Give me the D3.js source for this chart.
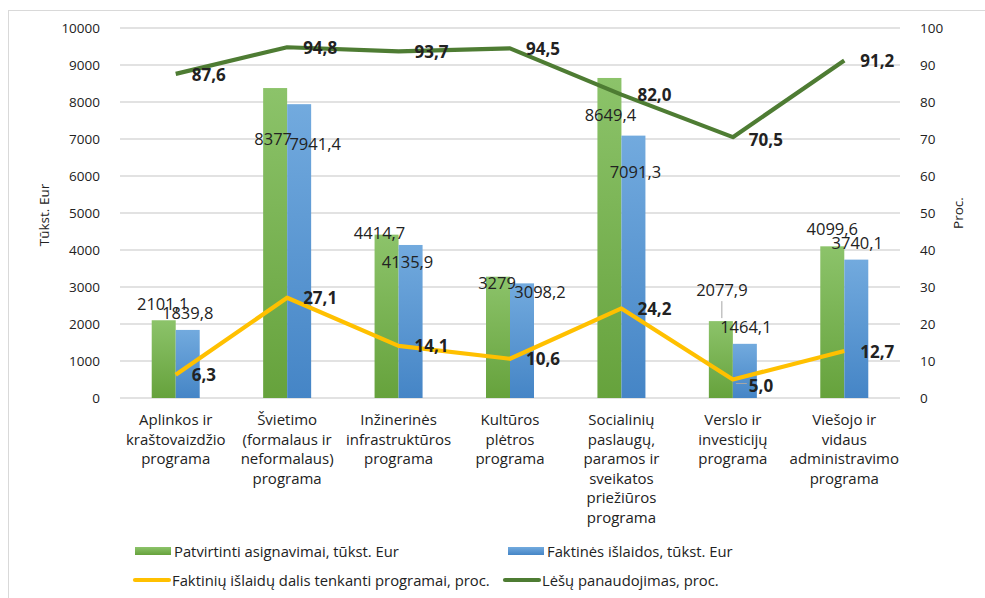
<!DOCTYPE html>
<html>
<head>
<meta charset="utf-8">
<script src="https://cdn.jsdelivr.net/npm/d3@7"></script>
<style>
  body { margin: 0; background: #fff; }
  svg text { font-family: "Open Sans", Lato, sans-serif; fill: #222; }
</style>
</head>
<body>
<div id="chart"></div>
<script>
// programs (line breaks as in the original axis)
var categories = [
  ["Aplinkos ir", "kraštovaizdžio", "programa"],
  ["Švietimo", "(formalaus ir", "neformalaus)", "programa"],
  ["Inžinerinės", "infrastruktūros", "programa"],
  ["Kultūros", "plėtros", "programa"],
  ["Socialinių", "paslaugų,", "paramos ir", "sveikatos", "priežiūros", "programa"],
  ["Verslo ir", "investicijų", "programa"],
  ["Viešojo ir", "vidaus", "administravimo", "programa"]
];
var approved = [2101.1, 8377, 4414.7, 3279, 8649.4, 2077.9, 4099.6];
var actual   = [1839.8, 7941.4, 4135.9, 3098.2, 7091.3, 1464.1, 3740.1];
var share    = [6.3, 27.1, 14.1, 10.6, 24.2, 5.0, 12.7];
var usage    = [87.6, 94.8, 93.7, 94.5, 82.0, 70.5, 91.2];

var leftTicks  = [0, 1000, 2000, 3000, 4000, 5000, 6000, 7000, 8000, 9000, 10000];
var rightTicks = [0, 10, 20, 30, 40, 50, 60, 70, 80, 90, 100];

var seriesNames = [
  "Patvirtinti asignavimai, tūkst. Eur",
  "Faktinės išlaidos, tūkst. Eur",
  "Faktinių išlaidų dalis tenkanti programai, proc.",
  "Lėšų panaudojimas, proc."
];

// hand-moved data labels (Excel style), offsets from the bar top
var approvedNudge = [[-1, -17], [-2, 50], [-7, -2], [-1, 6], [1, 37], [1, -32], [0, -18]];
var actualNudge   = [[0, -17], [16, 39], [-3, 17], [18, 8], [2, 36], [1, -17], [1, -17]];

var width = 985, height = 598;
var margin = {left: 120, right: 85, top: 28, bottom: 200};

var svg = d3.select("#chart").append("svg")
    .attr("width", width)
    .attr("height", height);

var defs = svg.append("defs");
function grad(id, c1, c2) {
  var g = defs.append("linearGradient").attr("id", id)
      .attr("x1", 0).attr("y1", 0).attr("x2", 0).attr("y2", 1);
  g.append("stop").attr("offset", "0%").attr("stop-color", c1);
  g.append("stop").attr("offset", "100%").attr("stop-color", c2);
}
grad("gGreen", "#8cc36a", "#66a23c");
grad("gBlue", "#72aade", "#4585c6");

// outer chart border
svg.append("rect")
    .attr("x", 8.5).attr("y", 10.5)
    .attr("width", width).attr("height", height)
    .attr("fill", "none").attr("stroke", "#d9d9d9");

var x = d3.scaleBand()
    .domain(d3.range(categories.length))
    .range([margin.left, width - margin.right]);

var x1 = d3.scaleBand().domain([0, 1]).range([x.bandwidth() / 2 - 24, x.bandwidth() / 2 + 24]);

var y = d3.scaleLinear().domain([0, 10000]).range([398, margin.top]);
var y2 = d3.scaleLinear().domain([0, 100]).range([398, margin.top]);

// gridlines
svg.append("g").selectAll("line")
  .data(leftTicks)
  .enter().append("line")
    .attr("x1", margin.left).attr("x2", width - margin.right)
    .attr("y1", d => y(d)).attr("y2", d => y(d))
    .attr("stroke", "#d9d9d9").attr("stroke-width", 1.3);

// left axis
var yAxis = svg.append("g")
    .attr("transform", "translate(" + (margin.left - 17) + ",0)")
    .call(d3.axisLeft(y).tickValues(leftTicks).tickSize(0).tickFormat(d3.format("d")));
yAxis.select(".domain").remove();
yAxis.selectAll("text").style("font-size", "13.5px").attr("fill", "#404040");

// right axis
var y2Axis = svg.append("g")
    .attr("transform", "translate(" + (width - margin.right + 17) + ",0)")
    .call(d3.axisRight(y2).tickValues(rightTicks).tickSize(0));
y2Axis.select(".domain").remove();
y2Axis.selectAll("text").style("font-size", "13.5px").attr("fill", "#404040");

svg.append("text")
    .attr("transform", "translate(49,215) rotate(-90)")
    .attr("text-anchor", "middle")
    .style("font-size", "13.5px")
    .text("Tūkst. Eur");

svg.append("text")
    .attr("transform", "translate(963,213) rotate(-90)")
    .attr("text-anchor", "middle")
    .style("font-size", "13.5px")
    .text("Proc.");

// category labels
var cat = svg.append("g").selectAll("text")
  .data(categories)
  .enter().append("text")
    .attr("text-anchor", "middle")
    .attr("x", (d, i) => x(i) + x.bandwidth() / 2)
    .attr("y", 425)
    .style("font-size", "15px")
    .attr("fill", "#404040");
cat.selectAll("tspan")
  .data(d => d)
  .enter().append("tspan")
    .attr("x", function() { return this.parentNode.getAttribute("x"); })
    .attr("dy", (d, i) => i ? 19.6 : 0)
    .text(d => d);

// bars
var bars = svg.append("g");
[approved, actual].forEach(function(values, s) {
  bars.selectAll(".bar" + s)
    .data(values)
    .enter().append("rect")
      .attr("class", "bar" + s)
      .attr("x", (d, i) => x(i) + x1(s))
      .attr("width", x1.bandwidth())
      .attr("y", d => y(d))
      .attr("height", d => y(0) - y(d))
      .attr("fill", s ? "url(#gBlue)" : "url(#gGreen)");
});

var fmt = function(v) { return String(v).replace(".", ","); };
var fmt1 = function(v) { return v.toFixed(1).replace(".", ","); };

// bar labels
[[approved, approvedNudge], [actual, actualNudge]].forEach(function(p, s) {
  svg.append("g").selectAll("text")
    .data(p[0])
    .enter().append("text")
      .attr("text-anchor", "middle")
      .attr("dominant-baseline", "central")
      .attr("x", (d, i) => x(i) + x1(s) + x1.bandwidth() / 2 + p[1][i][0])
      .attr("y", (d, i) => y(d) + p[1][i][1])
      .style("font-size", "16.5px")
      .attr("fill", "#222")
      .text(fmt);
});

// leader line for the moved Verslo label
svg.append("line")
    .attr("x1", x(5) + x1(0) + x1.bandwidth() / 2 + 1).attr("x2", x(5) + x1(0) + x1.bandwidth() / 2 + 1)
    .attr("y1", y(approved[5]) - 20).attr("y2", y(approved[5]) - 3)
    .attr("stroke", "#a6a6a6");

// lines
var cx = i => x(i) + x.bandwidth() / 2;
var line = d3.line().x((d, i) => cx(i)).y(d => y2(d));

svg.append("path").datum(share)
    .attr("d", line).attr("fill", "none")
    .attr("stroke", "#ffc000").attr("stroke-width", 4.2)
    .attr("stroke-linejoin", "round");

svg.append("path").datum(usage)
    .attr("d", line).attr("fill", "none")
    .attr("stroke", "#4e7c33").attr("stroke-width", 4.2)
    .attr("stroke-linejoin", "round");

// leader for 5,0
svg.append("line")
    .attr("x1", cx(5) + 3).attr("x2", cx(5) + 14)
    .attr("y1", y2(share[5]) + 4).attr("y2", y2(share[5]) + 4)
    .attr("stroke", "#a6a6a6");

var shareDy = [0, 0, 0, 0, 0, 6, 0];
var usageDy = [1, 0, 0, 0, 0, 2, 0];
[[share, shareDy], [usage, usageDy]].forEach(function(p) {
  svg.append("g").selectAll("text")
    .data(p[0])
    .enter().append("text")
      .attr("x", (d, i) => cx(i) + 16)
      .attr("y", (d, i) => y2(d) + p[1][i])
      .attr("dominant-baseline", "central")
      .style("font-size", "17px")
      .style("font-weight", "bold")
      .text(fmt1);
});

// legend
var legend = svg.append("g").style("font-size", "14.8px");
var legendItems = [
  {x: 135, y: 551, type: "rect", color: "url(#gGreen)"},
  {x: 508, y: 551, type: "rect", color: "url(#gBlue)"},
  {x: 133, y: 580, type: "line", color: "#ffc000"},
  {x: 503, y: 580, type: "line", color: "#4e7c33"}
];
legendItems.forEach(function(it, i) {
  if (it.type === "rect") {
    legend.append("rect").attr("x", it.x).attr("y", it.y - 4)
        .attr("width", 36).attr("height", 8).attr("fill", it.color);
  } else {
    legend.append("line").attr("x1", it.x + 2).attr("x2", it.x + 36)
        .attr("y1", it.y).attr("y2", it.y)
        .attr("stroke", it.color).attr("stroke-width", 4.2).attr("stroke-linecap", "round");
  }
  legend.append("text").attr("x", it.x + 39).attr("y", it.y)
      .attr("dominant-baseline", "central")
      .attr("fill", "#404040")
      .text(seriesNames[i]);
});
</script>
</body>
</html>
